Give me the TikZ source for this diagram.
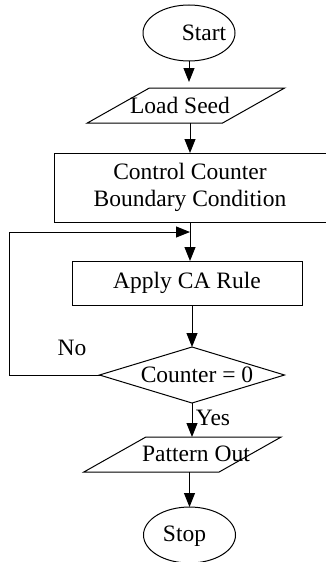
\documentclass[tikz,border=0pt]{standalone}
\usepackage{fontspec}
\setmainfont{Liberation Serif}
\usetikzlibrary{arrows.meta,positioning,shapes.geometric,calc}

\begin{document}
\begin{tikzpicture}[
  x=1pt, y=-1pt,
  >={Triangle[length=14pt,width=11pt]},
  line width=1pt,
  every node/.style={font=\fontsize{23.5}{27}\selectfont, outer sep=0pt, inner sep=0pt},
  terminal/.style={draw, ellipse, minimum width=92pt, minimum height=56pt},
  io/.style={draw, trapezium, trapezium left angle=41, trapezium right angle=139,
    trapezium stretches=true, minimum width=198pt, minimum height=35pt},
  process/.style={draw, rectangle, align=center},
  decision/.style={draw, diamond, minimum width=185pt, minimum height=56pt},
  flow/.style={->},
]
\useasboundingbox (0,0) rectangle (326,562);
\node[terminal] (start) at (189,33) {};
\node[io, below=27pt of start, xshift=-3pt] (load) {\phantom{M}};
\node[process, minimum width=272pt, minimum height=69pt, below=30pt of load, xshift=4pt] (ctrl)
  {Control Counter\\Boundary Condition};
\node[process, minimum width=230pt, minimum height=44pt, below=39pt of ctrl, xshift=-3pt] (apply)
  {Apply CA Rule};
\node[decision, below=42pt of apply, xshift=5pt] (dec) {};
\node[io, below=34pt of dec, xshift=-9.5pt] (pattern) {\phantom{M}};
\node[terminal, below=35pt of pattern, xshift=7pt] (stop) {};
% texts inside the shapes
\node (startlbl) at ($(start)+(15,0)$) {Start};
\node (loadlbl) at ($(load)+(-6,0)$) {Load Seed};
\node (declbl) at ($(dec)+(5,0)$) {Counter = 0};
\node (patternlbl) at ($(pattern)+(13.5,-1)$) {Pattern Out};
\node (stoplbl) at ($(stop)+(-5,1)$) {Stop};
\node (no) at (72,348) {No};
\node (yes) at (213,418) {Yes};
% connectors
\coordinate (merge) at ($(ctrl.south)+(0,10)$);
\draw[flow, shorten >=6pt] (start) -- (start |- load.north);
\draw[flow] (ctrl |- load.south) -- (ctrl.north);
\draw[flow] (ctrl.south) -- (ctrl.south |- apply.north);
\draw[flow] (apply.south -| dec) -- (dec.north);
\draw[flow] (dec.west) -- ++(-90,0) |- (merge);
\draw[flow] (dec.south) -- (dec.south |- pattern.north);
\draw[flow] (pattern.south -| stop) -- (stop.north);
\end{tikzpicture}
\end{document}
